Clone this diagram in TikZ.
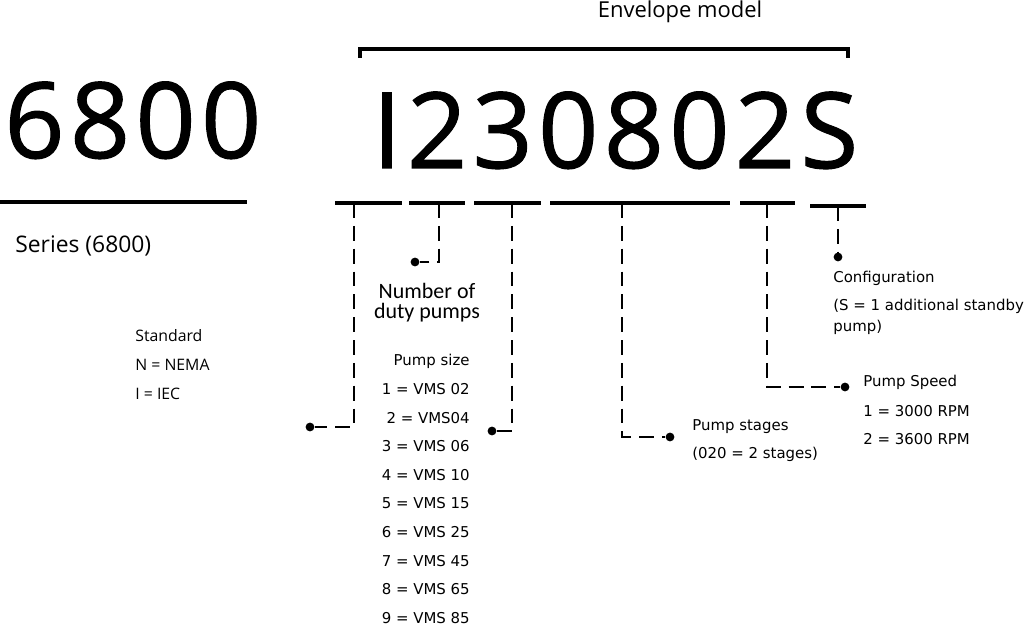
\documentclass[tikz,border=0pt]{standalone}
\usepackage{fontspec}
\setmainfont{DejaVu Sans}
\newfontfamily\codefont[LetterSpace=5, FakeBold=1]{Open Sans}
\newfontfamily\opensans{Open Sans}
\newfontfamily\carlito{Carlito}

\begin{document}
\begin{tikzpicture}[x=0.02cm, y=-0.02cm, every node/.style={inner sep=0pt},
    code/.style={font=\codefont\fontsize{60}{60}\selectfont},
    lbl/.style={font=\fontsize{8.5}{10}\selectfont},
    lblos/.style={font=\opensans\fontsize{9}{11}\selectfont},
    bar/.style={line width=2.2pt},
    leader/.style={line width=1.4pt, dash pattern=on 8.5pt off 4.5pt},
    dot/.style={circle, fill, minimum size=5pt}]
    \useasboundingbox (0,0) rectangle (1029,628);

    % series and model code
    \node[code, anchor=base west] (series) at (4,158) {6800};
    \node[code, anchor=base west] (model) at (372,168) {I230802S};
    \draw[bar] (0,202) -- (247,202);
    \node[font=\opensans\fontsize{13}{15}\selectfont, anchor=base west] (serieslbl) at (15,253) {Series (6800)};

    % envelope model bracket
    \draw[line width=1.8pt] (360,58) -- (360,49) -- (848,49) -- (848,58);
    \node[font=\opensans\fontsize{12.5}{14}\selectfont, anchor=base] (envelope) at (680,18) {Envelope model};

    % underlines below the code
    \foreach \n/\a/\b/\x in {std/335/402/354, duty/409/465/439, size/474/541/512, stg/550/730/622, spd/740/795/767} {
        \draw[bar] (\a,203) -- (\b,203);
        \coordinate (u\n) at (\x,203);
    }
    \draw[bar] (810,206) -- (866,206);
    \coordinate (ucfg) at (838,206);

    % leaders
    \node[dot] (dstd) at (310,427) {};
    \node[dot] (dduty) at (415,262) {};
    \node[dot] (dsize) at (492,431) {};
    \node[dot] (dstg) at (670,437) {};
    \node[dot] (dspd) at (845,387) {};
    \node[dot] (dcfg) at (838,257) {};
    \draw[leader] (ustd) |- (dstd);
    \draw[leader] (uduty) |- (dduty);
    \draw[leader] (usize) |- (dsize);
    \draw[leader] (ustg) |- (dstg);
    \draw[leader] (uspd) |- (dspd);
    \draw[leader] (ucfg) -- (dcfg);

    % labels
    \node[lblos, anchor=base west] (std1) at (135,342) {Standard};
    \node[lblos, anchor=base west] (std2) at (135,371) {N = NEMA};
    \node[lblos, anchor=base west] (std3) at (135,400) {I = IEC};

    \node[font=\carlito\fontsize{12.5}{11.5}\selectfont, align=center, anchor=north] (dutylbl) at (427,283) {Number of\\duty pumps};

    \foreach \t [count=\i from 0] in {Pump size, 1 = VMS 02, 2 = VMS04, 3 = VMS 06, 4 = VMS 10, 5 = VMS 15, 6 = VMS 25, 7 = VMS 45, 8 = VMS 65, 9 = VMS 85}
        \node[lbl, anchor=base east] (size\i) at (470,366+28.6*\i) {\t};

    \node[lbl, anchor=base west] (stg1) at (692,431) {Pump stages};
    \node[lbl, anchor=base west] (stg2) at (692,459) {(020 = 2 stages)};

    \node[lbl, anchor=base west] (spd1) at (863,387) {Pump Speed};
    \node[lbl, anchor=base west] (spd2) at (863,417) {1 = 3000 RPM};
    \node[lbl, anchor=base west] (spd3) at (863,445) {2 = 3600 RPM};

    \node[lbl, anchor=base west] (cfg1) at (833,283) {Configuration};
    \node[lbl, anchor=base west] (cfg2) at (833,311) {(S = 1 additional standby};
    \node[lbl, anchor=base west] (cfg3) at (833,332) {pump)};
\end{tikzpicture}
\end{document}
